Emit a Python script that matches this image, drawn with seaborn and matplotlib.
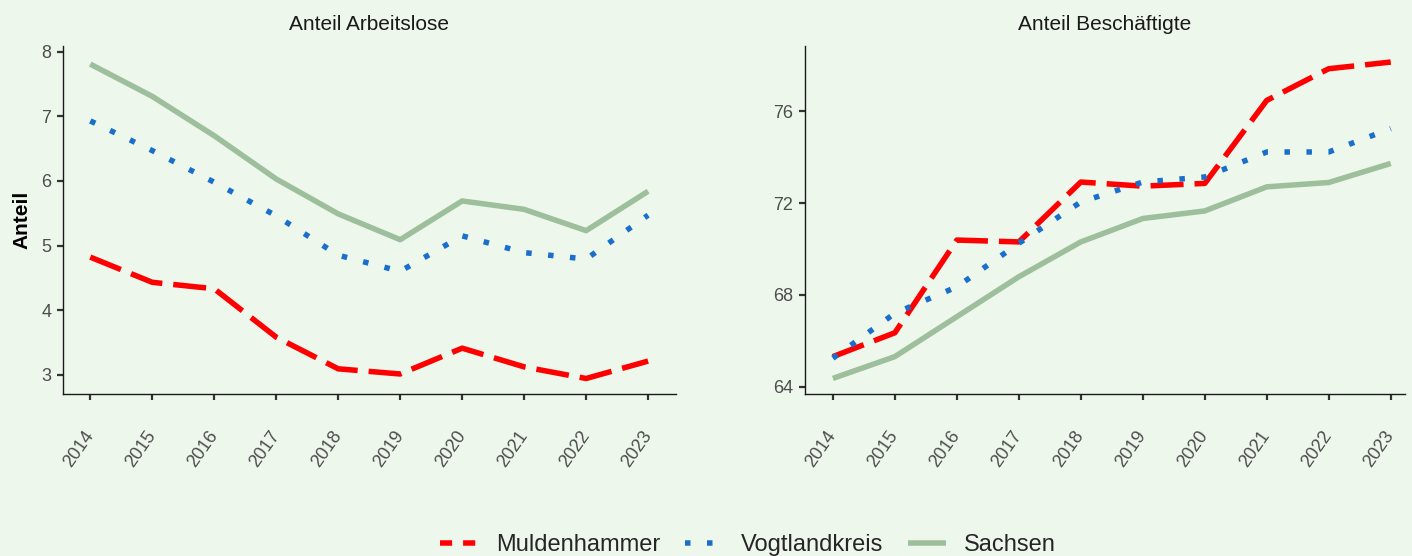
import matplotlib
matplotlib.use("Agg")
import matplotlib.pyplot as plt
import seaborn as sns
import pandas as pd
from matplotlib.lines import Line2D

years = [2014, 2015, 2016, 2017, 2018, 2019, 2020, 2021, 2022, 2023]
regions = ["Muldenhammer", "Vogtlandkreis", "Sachsen"]

alo_mulden = [4.82, 4.43, 4.33, 3.58, 3.09, 3.01, 3.41, 3.12, 2.94, 3.21]
alo_vogt = [6.93, 6.47, 5.98, 5.46, 4.85, 4.60, 5.15, 4.89, 4.79, 5.47]
alo_sachsen = [7.81, 7.31, 6.70, 6.03, 5.49, 5.09, 5.69, 5.56, 5.23, 5.84]

besch_mulden = [65.31, 66.35, 70.39, 70.31, 72.92, 72.74, 72.86, 76.48, 77.86, 78.15]
besch_vogt = [65.24, 67.2, 68.35, 70.25, 72.05, 72.92, 73.14, 74.23, 74.23, 75.25]
besch_sachsen = [64.36, 65.31, 67.05, 68.79, 70.31, 71.33, 71.66, 72.71, 72.90, 73.73]

panel_titles = ["Anteil Arbeitslose", "Anteil Beschäftigte"]
left_ticks = [3, 4, 5, 6, 7, 8]
right_ticks = [64, 68, 72, 76]

bg = "#eef7ec"
colors = {"Muldenhammer": "#ff0000", "Vogtlandkreis": "#1a6fcc", "Sachsen": "#9dbf9c"}

sns.set_style("white")
plt.rcParams["font.family"] = ["Liberation Sans", "DejaVu Sans"]

def long_df(a, b, c):
    rows = []
    for name, vals in zip(regions, [a, b, c]):
        for y, v in zip(years, vals):
            rows.append({"Jahr": y, "Anteil": v, "Region": name})
    return pd.DataFrame(rows)

df_alo = long_df(alo_mulden, alo_vogt, alo_sachsen)
df_besch = long_df(besch_mulden, besch_vogt, besch_sachsen)

W, H = 1412, 556
fig = plt.figure(figsize=(W / 100, H / 100), dpi=100)
fig.patch.set_facecolor(bg)

def px_axes(x0, y0, x1, y1):
    return fig.add_axes([x0 / W, 1 - y1 / H, (x1 - x0) / W, (y1 - y0) / H])

ax1 = px_axes(63, 46, 676, 394)
ax2 = px_axes(805, 46, 1405, 394)

lw = 5.5 * 72 / 100
dash_map = {"Muldenhammer": (6.0, 2.0), "Vogtlandkreis": (1, 3), "Sachsen": ""}
legend_dash = {"Muldenhammer": (2.2, 2.0), "Vogtlandkreis": (1, 3), "Sachsen": None}

for ax, df, title in zip([ax1, ax2], [df_alo, df_besch], panel_titles):
    ax.set_facecolor(bg)
    sns.lineplot(data=df, x="Jahr", y="Anteil", hue="Region", style="Region",
                 hue_order=regions, style_order=regions, palette=colors,
                 dashes=dash_map, linewidth=lw, ax=ax, legend=False)
    for line in ax.get_lines():
        line.set_solid_capstyle("butt")
        line.set_dash_capstyle("butt")
    ax.set_title(title, fontsize=15, color="#1a1a1a", pad=11.5)
    ax.set_xticks(years)
    ax.set_xticklabels([str(y) for y in years], rotation=55, ha="right", va="center",
                       rotation_mode="anchor", fontsize=13, color="#4d4d4d")
    ax.set_xlabel("")
    for s in ["top", "right"]:
        ax.spines[s].set_visible(False)
    for s in ["left", "bottom"]:
        ax.spines[s].set_color("#1a1a1a")
        ax.spines[s].set_linewidth(1.0)
    ax.tick_params(axis="both", which="major", length=4.5, width=1.6,
                   color="#333333", labelsize=13, labelcolor="#4d4d4d",
                   bottom=True, left=True)
    ax.tick_params(axis="x", pad=23)
    ax.tick_params(axis="y", pad=4)

ax1.set_xlim(2013.56, 2023.45)
ax2.set_xlim(2013.55, 2023.23)
ax1.set_ylim(2.70, 8.09)
ax2.set_ylim(63.68, 78.85)
ax1.set_yticks(left_ticks)
ax2.set_yticks(right_ticks)
ax1.set_ylabel("Anteil", fontsize=15, fontweight="bold", color="black", labelpad=7)
ax2.set_ylabel("")

handles = []
for r in regions:
    d = legend_dash[r]
    handles.append(Line2D([0], [0], color=colors[r], linewidth=lw,
                          linestyle=(0, d) if d else "-",
                          dash_capstyle="butt", solid_capstyle="butt"))
fig.legend(handles, regions, loc="center", ncol=3,
           bbox_to_anchor=(748 / W, 1 - 545 / H), frameon=False,
           fontsize=17, handlelength=1.6, columnspacing=1.06, handletextpad=0.76)

fig.savefig("out.png", dpi=100, facecolor=bg)
